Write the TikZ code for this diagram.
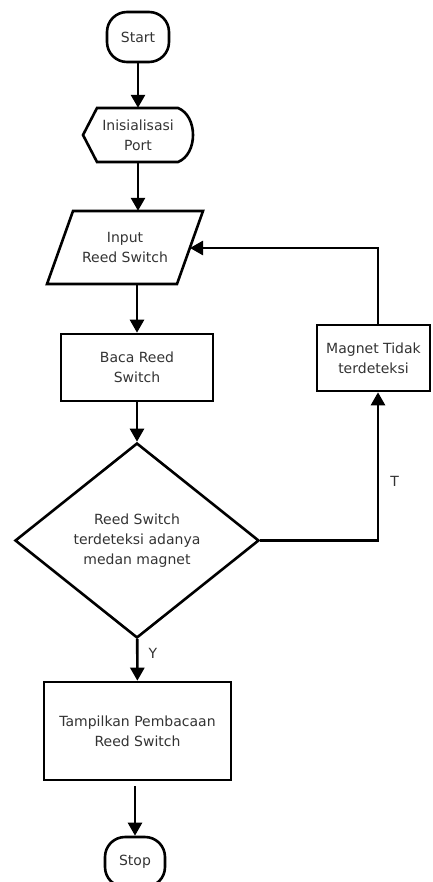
\documentclass[tikz,border=0pt]{standalone}
\usepackage{fontspec}
\setmainfont{DejaVu Sans}
\usetikzlibrary{arrows.meta, shapes.geometric, positioning}

\begin{document}
\begin{tikzpicture}[x=1pt, y=-1pt]
    \tikzstyle{txt} = [text=black!80, align=center, font=\fontsize{14}{20}\selectfont, inner sep=0pt];
    \tikzstyle{base} = [txt, draw=black, line width=2.6pt];
    \tikzstyle{terminal} = [base, rounded corners=20pt, minimum width=62pt, minimum height=50pt];
    \tikzstyle{process} = [base, shape=rectangle];
    \tikzstyle{decision} = [base, shape=diamond, minimum width=244pt, minimum height=195pt];
    \tikzstyle{outline} = [draw=black, line width=2.6pt, line join=miter];
    \tikzstyle{flow} = [draw, -{Triangle[length=13pt,width=14pt]}, line width=2.6pt];

    \useasboundingbox (0,0) rectangle (432,882);

    \node[terminal](Start) at (138,37) {Start};

    \node[txt, minimum width=110pt, minimum height=54pt](Init) at (138,135) {Inisialisasi\\Port};
    \draw[outline] (83,135) -- (97,108) -- (178,108) .. controls (198,116) and (198,154) .. (178,162) -- (97,162) -- cycle;

    \node[txt, minimum width=130pt, minimum height=73pt](Input) at (125,247.5) {Input\\Reed Switch};
    \draw[outline] (73,211) -- (203,211) -- (177,284) -- (47,284) -- cycle;
    \coordinate (InputR) at (190,248);

    \node[process, minimum width=152pt, minimum height=67pt](Baca) at (137,367.5) {Baca Reed\\Switch};
    \node[process, minimum width=113pt, minimum height=66pt](Magnet) at (373.5,358) {Magnet Tidak\\terdeteksi};
    \coordinate (MagnetN) at ([xshift=4.5pt]Magnet.north);
    \coordinate (MagnetS) at ([xshift=4.5pt]Magnet.south);

    \node[decision](Check) at (137,540.5) {Reed Switch\\terdeteksi adanya\\medan magnet};

    \node[process, minimum width=187pt, minimum height=98pt](Show) at (137.5,731) {Tampilkan Pembacaan\\Reed Switch};
    \node[terminal, minimum width=60pt](Stop) at (135,862) {Stop};
    \coordinate (ShowOut) at ([yshift=-5pt]Stop.north |- Show.south);

    \path
        (Start) edge[flow] (Init)
        (Init.south) edge[flow] (Init.south |- Input.north)
        (Baca.north |- Input.south) edge[flow] (Baca.north)
        (Baca) edge[flow] (Check)
        (Check) edge[flow] node[txt, pos=0.35, right=10pt]{Y} (Show)
        (ShowOut) edge[flow] (Stop)
    ;
    \draw[flow] (Check.east) -| (MagnetS) node[txt, pos=0.7, right=11pt]{T};
    \draw[flow] (MagnetN) |- (InputR);
\end{tikzpicture}
\end{document}
